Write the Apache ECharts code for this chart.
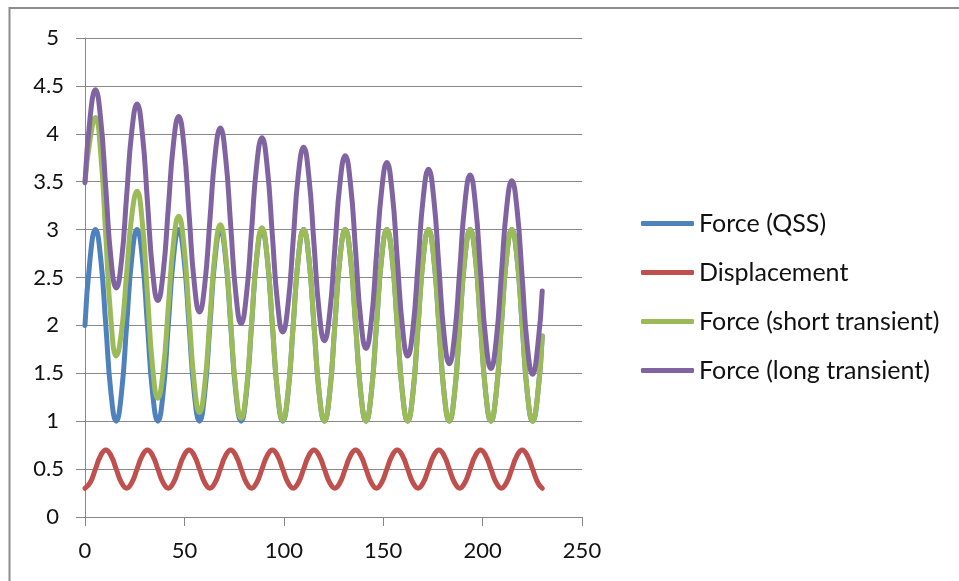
<!DOCTYPE html>
<html>
<head>
<meta charset="utf-8">
<script src="https://cdn.jsdelivr.net/npm/echarts@6/dist/echarts.min.js"></script>
<style>
  html, body { margin: 0; padding: 0; background: #fff; }
  #chart { width: 959px; height: 581px; }
</style>
</head>
<body>
<div id="chart"></div>
<script>
// time points, eight per cycle (peaks, troughs, crossings and between)
var xValues = [0, 2.62, 5.24, 7.85, 10.47, 13.09, 15.71, 18.33, 20.94, 23.56,
  26.18, 28.8, 31.42, 34.03, 36.65, 39.27, 41.89, 44.51, 47.12, 49.74,
  52.36, 54.98, 57.6, 60.21, 62.83, 65.45, 68.07, 70.69, 73.3, 75.92,
  78.54, 81.16, 83.78, 86.39, 89.01, 91.63, 94.25, 96.87, 99.48, 102.1,
  104.72, 107.34, 109.96, 112.57, 115.19, 117.81, 120.43, 123.05, 125.66, 128.28,
  130.9, 133.52, 136.14, 138.75, 141.37, 143.99, 146.61, 149.23, 151.84, 154.46,
  157.08, 159.7, 162.32, 164.93, 167.55, 170.17, 172.79, 175.41, 178.02, 180.64,
  183.26, 185.88, 188.5, 191.11, 193.73, 196.35, 198.97, 201.59, 204.2, 206.82,
  209.44, 212.06, 214.68, 217.29, 219.91, 222.53, 225.15, 227.77, 230];

var forceQSS = [2, 2.71, 3, 2.71, 2, 1.29, 1, 1.29,
  2, 2.71, 3, 2.71, 2, 1.29, 1, 1.29,
  2, 2.71, 3, 2.71, 2, 1.29, 1, 1.29,
  2, 2.71, 3, 2.71, 2, 1.29, 1, 1.29,
  2, 2.71, 3, 2.71, 2, 1.29, 1, 1.29,
  2, 2.71, 3, 2.71, 2, 1.29, 1, 1.29,
  2, 2.71, 3, 2.71, 2, 1.29, 1, 1.29,
  2, 2.71, 3, 2.71, 2, 1.29, 1, 1.29,
  2, 2.71, 3, 2.71, 2, 1.29, 1, 1.29,
  2, 2.71, 3, 2.71, 2, 1.29, 1, 1.29,
  2, 2.71, 3, 2.71, 2, 1.29, 1, 1.29,
  1.89];

var displacement = [0.3, 0.36, 0.5, 0.64, 0.7, 0.64, 0.5, 0.36,
  0.3, 0.36, 0.5, 0.64, 0.7, 0.64, 0.5, 0.36,
  0.3, 0.36, 0.5, 0.64, 0.7, 0.64, 0.5, 0.36,
  0.3, 0.36, 0.5, 0.64, 0.7, 0.64, 0.5, 0.36,
  0.3, 0.36, 0.5, 0.64, 0.7, 0.64, 0.5, 0.36,
  0.3, 0.36, 0.5, 0.64, 0.7, 0.64, 0.5, 0.36,
  0.3, 0.36, 0.5, 0.64, 0.7, 0.64, 0.5, 0.36,
  0.3, 0.36, 0.5, 0.64, 0.7, 0.64, 0.5, 0.36,
  0.3, 0.36, 0.5, 0.64, 0.7, 0.64, 0.5, 0.36,
  0.3, 0.36, 0.5, 0.64, 0.7, 0.64, 0.5, 0.36,
  0.3, 0.36, 0.5, 0.64, 0.7, 0.64, 0.5, 0.36,
  0.3];

var forceShort = [3.5, 3.95, 4.17, 3.81, 2.93, 2.05, 1.68, 1.93,
  2.54, 3.15, 3.4, 3.08, 2.32, 1.56, 1.24, 1.52,
  2.19, 2.86, 3.14, 2.84, 2.11, 1.39, 1.09, 1.38,
  2.07, 2.76, 3.05, 2.75, 2.03, 1.32, 1.03, 1.32,
  2.02, 2.73, 3.02, 2.72, 2.01, 1.3, 1.01, 1.3,
  2, 2.71, 3, 2.71, 2, 1.29, 1, 1.29,
  2, 2.71, 3, 2.71, 2, 1.29, 1, 1.29,
  2, 2.71, 3, 2.71, 2, 1.29, 1, 1.29,
  2, 2.71, 3, 2.71, 2, 1.29, 1, 1.29,
  2, 2.71, 3, 2.71, 2, 1.29, 1, 1.29,
  2, 2.71, 3, 2.71, 2, 1.29, 1, 1.29,
  1.89];

var forceLong = [3.49, 4.18, 4.46, 4.16, 3.43, 2.69, 2.39, 2.67,
  3.35, 4.03, 4.31, 4.01, 3.29, 2.56, 2.26, 2.54,
  3.22, 3.9, 4.18, 3.88, 3.16, 2.44, 2.14, 2.42,
  3.1, 3.78, 4.06, 3.76, 3.04, 2.32, 2.02, 2.31,
  2.99, 3.68, 3.96, 3.66, 2.94, 2.23, 1.93, 2.21,
  2.89, 3.58, 3.86, 3.56, 2.85, 2.14, 1.84, 2.12,
  2.8, 3.49, 3.77, 3.48, 2.77, 2.05, 1.76, 2.04,
  2.73, 3.41, 3.7, 3.4, 2.69, 1.98, 1.68, 1.96,
  2.65, 3.34, 3.63, 3.33, 2.61, 1.9, 1.6, 1.89,
  2.58, 3.28, 3.57, 3.27, 2.56, 1.85, 1.55, 1.84,
  2.53, 3.22, 3.51, 3.22, 2.5, 1.78, 1.49, 1.79,
  2.36];

var seriesNames = ['Force (QSS)', 'Displacement', 'Force (short transient)', 'Force (long transient)'];
var seriesColors = ['#4F81BD', '#C0504D', '#9BBB59', '#8064A2'];
var seriesValues = [forceQSS, displacement, forceShort, forceLong];

var font = 'Lato, "Liberation Sans", sans-serif';
var gridColor = '#888888';

function pairs(ys) {
  var out = [];
  for (var i = 0; i < xValues.length; i++) {
    out.push([xValues[i], ys[i]]);
  }
  return out;
}

var chart = echarts.init(document.getElementById('chart'), null, { renderer: 'canvas' });

var series = seriesNames.map(function (name, i) {
  return {
    name: name,
    type: 'line',
    symbol: 'none',
    smooth: true,
    color: seriesColors[i],
    lineStyle: { width: 5, color: seriesColors[i], cap: 'round', join: 'round' },
    data: pairs(seriesValues[i])
  };
});

chart.setOption({
  animation: false,
  backgroundColor: '#fff',
  // outer chart frame (only top and left edges are visible)
  graphic: [{
    type: 'rect',
    shape: { x: 9.5, y: 8, width: 1100, height: 1100 },
    style: { fill: 'none', stroke: '#8c8c8c', lineWidth: 2 },
    silent: true
  }],
  grid: {
    left: 85,
    top: 38,
    width: 497,
    height: 479,
    containLabel: false
  },
  legend: {
    orient: 'vertical',
    left: 641,
    top: 211,
    padding: 0,
    itemWidth: 53,
    itemHeight: 5,
    itemGap: 24,
    icon: 'roundRect',
    data: seriesNames,
    textStyle: { fontFamily: font, fontSize: 25, color: '#111' }
  },
  xAxis: {
    type: 'value',
    min: 0,
    max: 250,
    interval: 50,
    axisLine: { show: true, onZero: false, lineStyle: { color: gridColor, width: 1 } },
    axisTick: { show: true, inside: false, length: 9, lineStyle: { color: gridColor, width: 1 } },
    splitLine: { show: false },
    axisLabel: { fontFamily: font, fontSize: 22, color: '#111', margin: 23 }
  },
  yAxis: {
    type: 'value',
    min: 0,
    max: 5,
    interval: 0.5,
    axisLine: { show: true, lineStyle: { color: gridColor, width: 1 } },
    axisTick: { show: true, inside: false, length: 9, lineStyle: { color: gridColor, width: 1 } },
    splitLine: { show: true, lineStyle: { color: gridColor, width: 1 } },
    axisLabel: {
      fontFamily: font,
      fontSize: 22,
      color: '#111',
      margin: 21,
      // excel puts the whole numbers a bit further left
      formatter: function (v) {
        return Number.isInteger(v) ? '{i|' + v + '}' : String(v);
      },
      rich: {
        i: { fontFamily: font, fontSize: 22, color: '#111', padding: [0, 5, 0, 0] }
      }
    }
  },
  series: series
});
</script>
</body>
</html>
